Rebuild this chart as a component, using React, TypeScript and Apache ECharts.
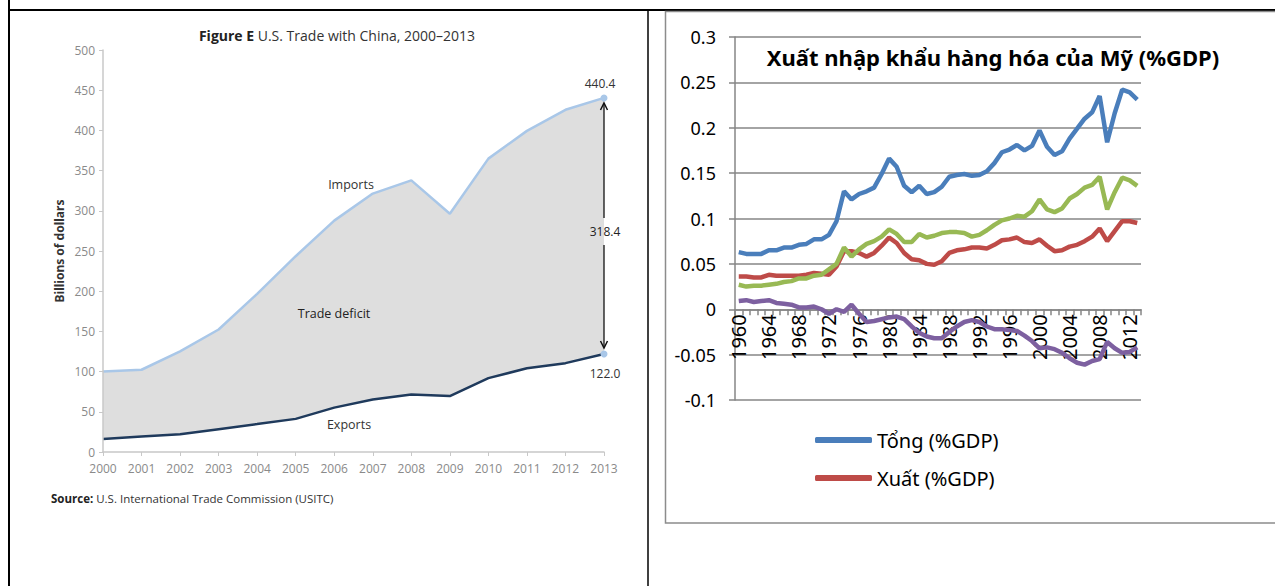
import React, { useEffect, useRef } from "react";
import * as echarts from "echarts";

// ---------- Left chart: U.S. trade with China ----------
const chinaYears = ["2000","2001","2002","2003","2004","2005","2006","2007","2008","2009","2010","2011","2012","2013"];
const chinaImports = [100.0, 102.3, 125.2, 152.4, 196.7, 243.5, 287.8, 321.4, 337.8, 296.4, 364.9, 399.4, 425.6, 440.4];
const chinaExports = [16.2, 19.2, 22.1, 28.4, 34.7, 41.2, 55.2, 65.2, 71.5, 69.6, 91.9, 104.1, 110.5, 122.0];

// ---------- Right chart: US goods trade (%GDP) ----------
const gdpYears = [
  "1960","1961","1962","1963","1964","1965","1966","1967","1968","1969",
  "1970","1971","1972","1973","1974","1975","1976","1977","1978","1979",
  "1980","1981","1982","1983","1984","1985","1986","1987","1988","1989",
  "1990","1991","1992","1993","1994","1995","1996","1997","1998","1999",
  "2000","2001","2002","2003","2004","2005","2006","2007","2008","2009",
  "2010","2011","2012","2013"
];
const tongGDP = [
  0.063,0.061,0.061,0.061,0.065,0.065,0.068,0.068,0.071,0.072,
  0.077,0.077,0.082,0.097,0.130,0.121,0.127,0.130,0.134,0.149,
  0.166,0.157,0.136,0.129,0.136,0.127,0.129,0.135,0.146,0.148,
  0.149,0.147,0.148,0.152,0.161,0.173,0.176,0.181,0.175,0.180,
  0.197,0.179,0.170,0.174,0.188,0.199,0.210,0.217,0.235,0.184,
  0.216,0.242,0.239,0.231
];
const xuatGDP = [
  0.036,0.036,0.035,0.035,0.038,0.037,0.037,0.037,0.037,0.038,
  0.040,0.039,0.038,0.047,0.064,0.064,0.062,0.058,0.062,0.070,
  0.079,0.073,0.062,0.055,0.054,0.050,0.049,0.053,0.062,0.065,
  0.066,0.068,0.068,0.067,0.071,0.076,0.077,0.079,0.074,0.073,
  0.077,0.070,0.064,0.065,0.069,0.071,0.075,0.080,0.089,0.075,
  0.086,0.097,0.097,0.095
];
const nhapGDP = [
  0.027,0.025,0.026,0.026,0.027,0.028,0.030,0.031,0.034,0.034,
  0.037,0.038,0.044,0.050,0.068,0.058,0.066,0.072,0.075,0.080,
  0.088,0.083,0.074,0.074,0.083,0.079,0.081,0.084,0.085,0.085,
  0.084,0.080,0.082,0.087,0.093,0.098,0.100,0.103,0.102,0.108,
  0.121,0.110,0.107,0.111,0.122,0.127,0.134,0.137,0.146,0.110,
  0.129,0.145,0.142,0.136
];
const canCanGDP = [
  0.009,0.010,0.008,0.009,0.010,0.007,0.006,0.005,0.002,0.002,
  0.003,0.000,-0.005,0.000,-0.003,0.005,-0.005,-0.014,-0.013,-0.011,
  -0.009,-0.008,-0.011,-0.019,-0.026,-0.030,-0.032,-0.032,-0.025,-0.019,
  -0.014,-0.012,-0.014,-0.019,-0.022,-0.022,-0.023,-0.024,-0.029,-0.035,
  -0.043,-0.042,-0.044,-0.048,-0.054,-0.059,-0.061,-0.057,-0.055,-0.036,
  -0.043,-0.048,-0.047,-0.042
];

const leftFont = "'Liberation Sans Narrow', 'Arial Narrow', 'Open Sans', sans-serif";
const rightFont = "'Noto Sans', 'DejaVu Sans', sans-serif";

export default function App() {
  const ref = useRef<HTMLDivElement>(null);
  useEffect(() => {
    if (!ref.current) return;
    const chart = echarts.init(ref.current, null, { renderer: "svg" });
    const last = chinaYears.length - 1;
    const dot = (arr: number[]) =>
      arr.map((v, i) =>
        i === last
          ? { value: v, symbol: "circle", symbolSize: 7, itemStyle: { color: "#a9c7e8" } }
          : v
      );
    const option: any = {
      animation: false,
      backgroundColor: "#ffffff",
      grid: [
        { left: 103, top: 50, width: 501, height: 402 },
        { left: 735, top: 37, width: 406, height: 363 },
      ],
      xAxis: [
        {
          gridIndex: 0,
          type: "category",
          data: chinaYears,
          boundaryGap: false,
          z: 5,
          axisLine: { lineStyle: { color: "#c8c8c8", width: 1.5 } },
          axisTick: { show: true, length: 4, lineStyle: { color: "#c8c8c8" } },
          axisLabel: { color: "#8a8a8a", fontSize: 12, fontFamily: leftFont, margin: 10 },
          splitLine: { show: false },
        },
        {
          gridIndex: 1,
          type: "category",
          data: gdpYears,
          boundaryGap: true,
          offset: -90.75,
          z: 1,
          axisLine: { onZero: false, lineStyle: { color: "#868686", width: 1.5 } },
          axisTick: { show: true, interval: 0, length: 6, lineStyle: { color: "#868686", width: 1.5 } },
          axisLabel: { interval: 3, rotate: 90, color: "#000", fontSize: 20, fontFamily: rightFont, margin: 5 },
          splitLine: { show: false },
        },
      ],
      yAxis: [
        {
          gridIndex: 0,
          type: "value",
          min: 0,
          max: 500,
          interval: 50,
          z: 5,
          name: "Billions of dollars",
          nameLocation: "middle",
          nameGap: 38,
          nameRotate: 90,
          nameTextStyle: { fontWeight: "bold", fontSize: 12, color: "#333", fontFamily: rightFont },
          axisLine: { show: true, lineStyle: { color: "#c8c8c8", width: 1.5 } },
          axisTick: { show: true, length: 4, lineStyle: { color: "#c8c8c8" } },
          axisLabel: { color: "#8a8a8a", fontSize: 12, fontFamily: leftFont, margin: 8 },
          splitLine: { show: false },
        },
        {
          gridIndex: 1,
          type: "value",
          min: -0.1,
          max: 0.3,
          interval: 0.05,
          axisLine: { show: true, lineStyle: { color: "#868686", width: 1.5 } },
          axisTick: { show: true, length: 6, lineStyle: { color: "#868686", width: 1.5 } },
          axisLabel: {
            color: "#000",
            fontSize: 18,
            fontFamily: rightFont,
            margin: 19,
            formatter: (v: number) => String(parseFloat(v.toFixed(2))),
          },
          splitLine: { show: true, lineStyle: { color: "#868686", width: 1.5 } },
        },
      ],
      legend: {
        orient: "vertical",
        left: 810,
        top: 423,
        itemWidth: 57,
        itemHeight: 6,
        itemGap: 14,
        icon: "roundRect",
        data: ["Tổng (%GDP)", "Xuất (%GDP)"],
        textStyle: { fontSize: 20, fontFamily: rightFont, color: "#000", lineHeight: 24 },
      },
      series: [
        {
          name: "Imports",
          type: "line",
          xAxisIndex: 0,
          yAxisIndex: 0,
          data: dot(chinaImports),
          symbol: "none",
          showSymbol: true,
          lineStyle: { color: "#a9c7e8", width: 2.5 },
          itemStyle: { color: "#a9c7e8" },
          areaStyle: { color: "#dedede", opacity: 1 },
          z: 2,
        },
        {
          name: "Exports",
          type: "line",
          xAxisIndex: 0,
          yAxisIndex: 0,
          data: dot(chinaExports),
          symbol: "none",
          showSymbol: true,
          lineStyle: { color: "#1f3a5c", width: 2.5 },
          itemStyle: { color: "#1f3a5c" },
          areaStyle: { color: "#ffffff", opacity: 1 },
          z: 3,
        },
        {
          name: "Tổng (%GDP)",
          type: "line",
          xAxisIndex: 1,
          yAxisIndex: 1,
          data: tongGDP,
          showSymbol: false,
          z: 4,
          lineStyle: { color: "#4a7ebb", width: 4.5 },
          itemStyle: { color: "#4a7ebb" },
        },
        {
          name: "Xuất (%GDP)",
          type: "line",
          xAxisIndex: 1,
          yAxisIndex: 1,
          data: xuatGDP,
          showSymbol: false,
          z: 4,
          lineStyle: { color: "#be4b48", width: 4.5 },
          itemStyle: { color: "#be4b48" },
        },
        {
          name: "Nhập (%GDP)",
          type: "line",
          xAxisIndex: 1,
          yAxisIndex: 1,
          data: nhapGDP,
          showSymbol: false,
          z: 4,
          lineStyle: { color: "#98b954", width: 4.5 },
          itemStyle: { color: "#98b954" },
        },
        {
          name: "Cán cân (%GDP)",
          type: "line",
          xAxisIndex: 1,
          yAxisIndex: 1,
          data: canCanGDP,
          showSymbol: false,
          z: 4,
          lineStyle: { color: "#7d60a0", width: 4.5 },
          itemStyle: { color: "#7d60a0" },
        },
      ],
      graphic: [
        // table borders
        { type: "line", shape: { x1: 9, y1: 0, x2: 9, y2: 586 }, style: { stroke: "#000", lineWidth: 2 } },
        { type: "line", shape: { x1: 9, y1: 10, x2: 1275, y2: 10 }, style: { stroke: "#000", lineWidth: 2 } },
        { type: "line", shape: { x1: 648, y1: 10, x2: 648, y2: 586 }, style: { stroke: "#000", lineWidth: 1.5 } },
        { type: "rect", shape: { x: 665.5, y: 11.5, width: 700, height: 511.5 }, style: { fill: "none", stroke: "#8c8c8c", lineWidth: 1.5 } },
        // left chart texts
        {
          type: "text", x: 337, y: 35,
          style: {
            text: "{b|Figure E} U.S. Trade with China, 2000–2013",
            rich: { b: { fontWeight: "bold", fontSize: 14, fontFamily: leftFont, fill: "#222" } },
            fontSize: 14, fontFamily: leftFont, fill: "#333", align: "center", verticalAlign: "middle",
          },
        },
        { type: "text", x: 351, y: 184, z: 10, style: { text: "Imports", fontSize: 12.5, fontFamily: leftFont, fill: "#333", align: "center", verticalAlign: "middle" } },
        { type: "text", x: 334, y: 313, z: 10, style: { text: "Trade deficit", fontSize: 12.5, fontFamily: leftFont, fill: "#222", align: "center", verticalAlign: "middle" } },
        { type: "text", x: 349, y: 424, z: 10, style: { text: "Exports", fontSize: 12.5, fontFamily: leftFont, fill: "#333", align: "center", verticalAlign: "middle" } },
        { type: "text", x: 600, y: 83, z: 10, style: { text: "440.4", fontSize: 12, fontFamily: leftFont, fill: "#333", align: "center", verticalAlign: "middle" } },
        { type: "text", x: 605, y: 231, z: 10, style: { text: "318.4", fontSize: 12, fontFamily: leftFont, fill: "#222", align: "center", verticalAlign: "middle" } },
        { type: "text", x: 605, y: 373, z: 10, style: { text: "122.0", fontSize: 12, fontFamily: leftFont, fill: "#333", align: "center", verticalAlign: "middle" } },
        { type: "line", z: 10, shape: { x1: 604, y1: 104, x2: 604, y2: 218 }, style: { stroke: "#111", lineWidth: 1.3 } },
        { type: "line", z: 10, shape: { x1: 604, y1: 245, x2: 604, y2: 347 }, style: { stroke: "#111", lineWidth: 1.3 } },
        { type: "polyline", z: 10, shape: { points: [[600.5, 110], [604, 103], [607.5, 110]] }, style: { stroke: "#111", lineWidth: 1.5, fill: "none" } },
        { type: "polyline", z: 10, shape: { points: [[600.5, 341], [604, 348], [607.5, 341]] }, style: { stroke: "#111", lineWidth: 1.5, fill: "none" } },
        {
          type: "text", x: 51, y: 498,
          style: {
            text: "{b|Source:} U.S. International Trade Commission (USITC)",
            rich: { b: { fontWeight: "bold", fontSize: 11.5, fontFamily: leftFont, fill: "#222" } },
            fontSize: 11.5, fontFamily: leftFont, fill: "#333", align: "left", verticalAlign: "middle",
          },
        },
        // right chart title
        {
          type: "text", x: 993, y: 57,
          style: {
            text: "Xuất nhập khẩu hàng hóa của Mỹ (%GDP)",
            fontSize: 22, fontWeight: "bold", fontFamily: rightFont, fill: "#000",
            align: "center", verticalAlign: "middle",
          },
        },
      ],
    };
    chart.setOption(option);
    return () => chart.dispose();
  }, []);
  return (
    <div
      ref={ref}
      style={{ position: "fixed", left: 0, top: 0, width: 1275, height: 586, background: "#fff" }}
    />
  );
}
